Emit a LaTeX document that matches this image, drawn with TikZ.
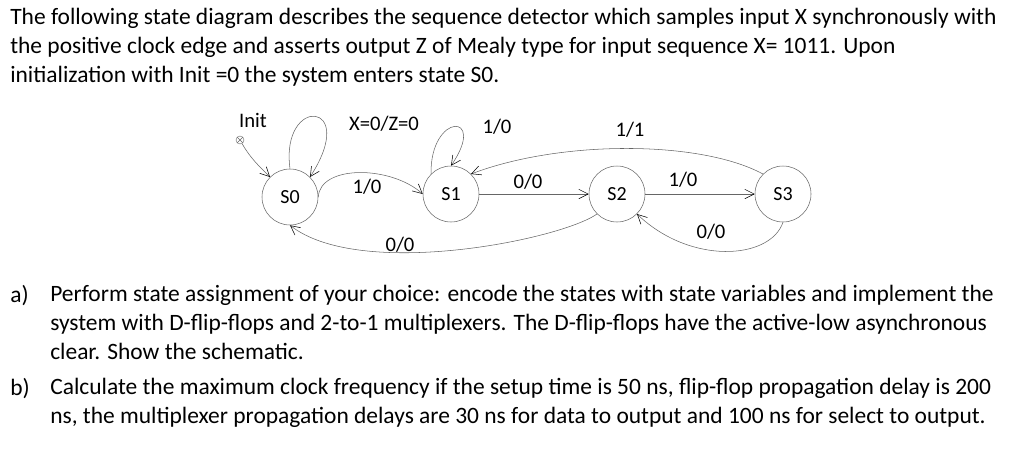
\documentclass[tikz,border=0pt]{standalone}
\usepackage{fontspec}
\setmainfont{Carlito}
\usetikzlibrary{arrows.meta}
\begin{document}
\begin{tikzpicture}[x=0.75pt,y=-0.75pt,
  st/.style={circle,draw=black!60,line width=0.4pt,minimum size=42pt,inner sep=0pt,font=\fontsize{15}{17}\selectfont},
  lb/.style={font=\fontsize{15.5}{17}\selectfont,inner sep=1pt},
  tr/.style={draw=black!60,line width=0.4pt,-{Straight Barb[length=7pt,width=7pt,black]}},
  para/.style={anchor=north west,align=left,inner sep=0pt,font=\fontsize{17.6}{21.75}\selectfont}]
\useasboundingbox (0,0) rectangle (1024,465);
\node[para] (t) at (10,8) {The following state diagram describes the sequence detector which samples input X synchronously with\\
the positive clock edge and asserts output Z of Mealy type for input sequence X= 1011. Upon\\
initialization with Init =0 the system enters state S0.};
\node[st] (s0) at (290,197) {S0};
\node[st] (s1) at (451,194) {S1};
\node[st] (s2) at (617,194) {S2};
\node[st] (s3) at (783,194) {S3};
\node[circle,draw=black!60,minimum size=6pt,inner sep=0pt,line width=0.3pt] (ini) at (240,140) {};
\draw[black!60,line width=0.3pt] (ini.north west) -- (ini.south east) (ini.north east) -- (ini.south west);
\node[lb] (li) at (253,120) {Init};
\draw[tr] (s0.north) .. controls (280,95) and (360,100) .. (s0.north east);
\draw[tr] (ini) to[out=-60,in=135] (s0.north west);
\node[lb] at (384,124) {X=0/Z=0};
\draw[tr] (s1.north west) .. controls (430,112) and (488,112) .. (s1.north);
\node[lb] at (497,127) {1/0};
\draw[tr] (s0.east) .. controls (320,165) and (390,165) .. (s1.west);
\node[lb] at (367,187) {1/0};
\draw[tr] (s1.east) -- (s2.west);
\node[lb] at (528,182) {0/0};
\draw[tr] (s2.east) -- (s3.west);
\node[lb] at (683,180) {1/0};
\draw[tr] (s3.north west) .. controls (700,140) and (560,140) .. (s1.north east);
\node[lb] at (630,130) {1/1};
\draw[tr] (s3.south) .. controls (770,260) and (690,265) .. (s2.south east);
\node[lb] at (711,232) {0/0};
\draw[tr] (s2.south west) .. controls (560,240) and (360,280) .. (s0.south);
\node[lb] at (400,245) {0/0};
\node[para] (a) at (10,285) {a)};
\node[para] (at) at (50,285) {Perform state assignment of your choice: encode the states with state variables and implement the\\
system with D-flip-flops and 2-to-1 multiplexers. The D-flip-flops have the active-low asynchronous\\
clear. Show the schematic.};
\node[para] (b) at (10,378) {b)};
\node[para] (bt) at (50,378) {Calculate the maximum clock frequency if the setup time is 50 ns, flip-flop propagation delay is 200\\
ns, the multiplexer propagation delays are 30 ns for data to output and 100 ns for select to output.};
\end{tikzpicture}
\end{document}
